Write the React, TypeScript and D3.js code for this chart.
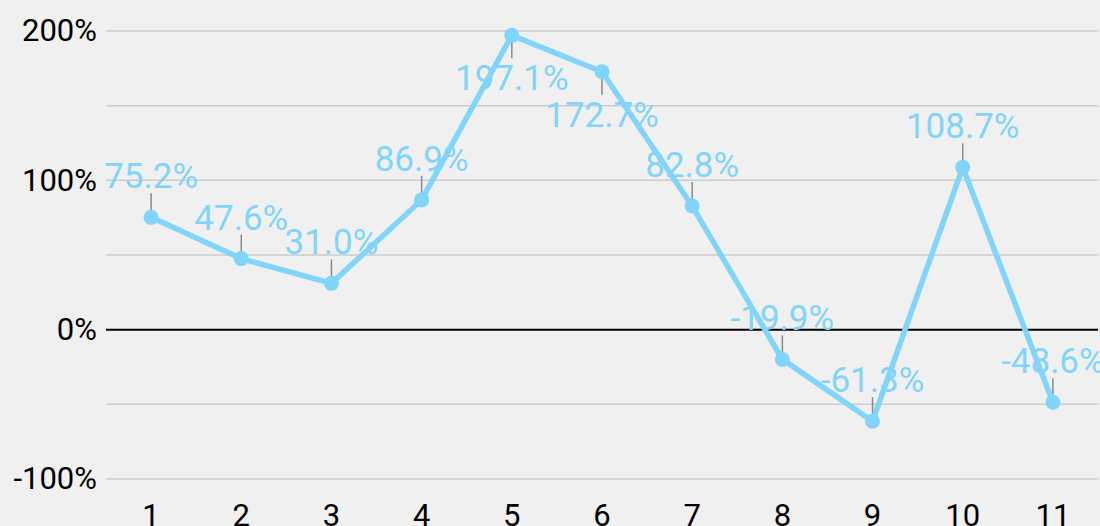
import { useEffect, useRef } from 'react';
import * as d3 from 'd3';

// values
const categories = ['1', '2', '3', '4', '5', '6', '7', '8', '9', '10', '11'];
const values = [75.2, 47.6, 31.0, 86.9, 197.1, 172.7, 82.8, -19.9, -61.3, 108.7, -48.6];
const yTicks = [-100, -50, 0, 50, 100, 150, 200];
const yLabelTicks = [-100, 0, 100, 200];

export default function App() {
  const width = 1100;
  const height = 526;
  const marginLeft = 106;
  const marginRight = 2;
  const marginTop = 31;
  const plotBottom = 479;

  const color = '#81d4fa';

  const x = d3.scaleBand<string>()
    .domain(categories)
    .range([marginLeft, width - marginRight]);

  const y = d3.scaleLinear()
    .domain([-100, 200])
    .range([plotBottom, marginTop]);

  const cx = (i: number) => (x(categories[i]) ?? 0) + x.bandwidth() / 2;

  const line = d3.line<number>()
    .x((d, i) => cx(i))
    .y(d => y(d));

  const gy = useRef<SVGGElement>(null);

  useEffect(() => {
    document.body.style.margin = '0';
    if (gy.current) {
      d3.select(gy.current)
        .call(d3.axisLeft(y).tickValues(yLabelTicks).tickSize(0).tickPadding(9).tickFormat(d => `${d}%`))
        .call(g => g.select('.domain').remove())
        .selectAll('text')
        .attr('font-family', 'Roboto')
        .attr('font-size', 31)
        .attr('fill', '#000');
    }
  }, []);

  // labels near the top go underneath the point
  const below = (v: number) => v > 150;

  return (
    <svg width={width} height={height} style={{ display: 'block', background: '#f0f0f0' }}>
      <rect width={width} height={height} fill='#f0f0f0' />
      {yTicks.filter(t => t !== 0).map(t => (
        <line key={t} x1={marginLeft} x2={width - marginRight} y1={y(t)} y2={y(t)} stroke='#cccccc' strokeWidth={1.5} />
      ))}
      <line x1={marginLeft} x2={width - marginRight} y1={y(0)} y2={y(0)} stroke='#000' strokeWidth={2} />
      <g ref={gy} transform={`translate(${marginLeft},0)`} />

      {categories.map((c, i) => (
        <text key={c} x={cx(i)} y={526} textAnchor='middle' fontFamily='Roboto' fontSize={31} fill='#000'>{c}</text>
      ))}

      {values.map((v, i) => {
        const py = y(v);
        const b = below(v);
        return (
          <g key={i}>
            <line x1={cx(i)} x2={cx(i)} y1={py} y2={b ? py + 23 : py - 24} stroke='#8a8a8a' strokeWidth={1.5} />
            <text x={cx(i)} y={b ? py + 55 : py - 29} textAnchor='middle' fontFamily='Roboto' fontSize={35} fill={color}>
              {`${v.toFixed(1)}%`}
            </text>
          </g>
        );
      })}

      <path d={line(values) ?? ''} fill='none' stroke={color} strokeWidth={5.5} strokeLinejoin='round' />
      {values.map((v, i) => (
        <circle key={i} cx={cx(i)} cy={y(v)} r={7.5} fill={color} />
      ))}
    </svg>
  );
}
